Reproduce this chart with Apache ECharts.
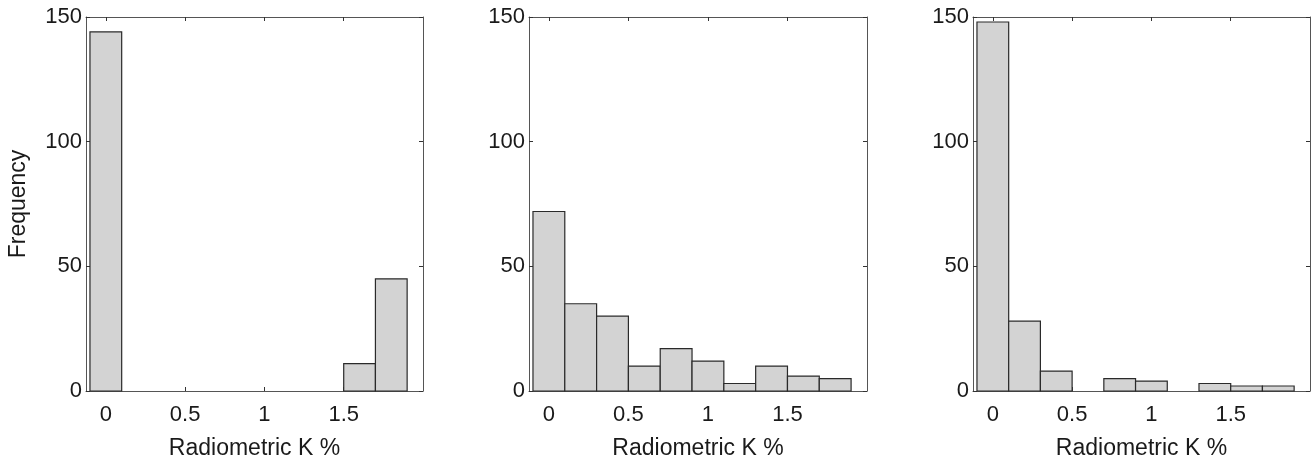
<!DOCTYPE html>
<html>
<head>
<meta charset="utf-8">
<script src="https://cdn.jsdelivr.net/npm/echarts@6/dist/echarts.min.js"></script>
<style>
html,body{margin:0;padding:0;background:#fff;}
#chart{width:1316px;height:462px;}
</style>
</head>
<body>
<div id="chart"></div>
<script>
// Bin centres (bin width 0.2)
var binCenters = [0, 0.2, 0.4, 0.6, 0.8, 1.0, 1.2, 1.4, 1.6, 1.8];
var binWidth = 0.2;
// Frequencies per panel
var panel1Counts = [144, 0, 0, 0, 0, 0, 0, 0, 11, 45];
var panel2Counts = [72, 35, 30, 10, 17, 12, 3, 10, 6, 5];
var panel3Counts = [148, 28, 8, 0, 5, 4, 0, 3, 2, 2];
var xTickLabels = [0, 0.5, 1, 1.5];
var yTickLabels = [0, 50, 100, 150];
var xLabel = 'Radiometric K %';
var yLabel = 'Frequency';

var panels = [panel1Counts, panel2Counts, panel3Counts];
var grids = [
  {left: 86, top: 17, width: 337, height: 374, outerBoundsMode: 'none', containLabel: false},
  {left: 529, top: 17, width: 338, height: 374, outerBoundsMode: 'none', containLabel: false},
  {left: 973, top: 17, width: 337, height: 374, outerBoundsMode: 'none', containLabel: false}
];

var font = 'Liberation Sans, Arial, sans-serif';
var axisColor = '#555';
var xAxes = [], yAxes = [], series = [];

grids.forEach(function (g, i) {
  // bottom x axis
  xAxes.push({
    type: 'value', gridIndex: i, position: 'bottom', min: -0.125, max: 2,
    name: xLabel, nameLocation: 'middle', nameGap: 46,
    nameTextStyle: {fontFamily: font, fontSize: 23, color: '#1a1a1a'},
    axisLine: {show: true, onZero: false, lineStyle: {color: axisColor, width: 1}},
    axisTick: {show: true, inside: true, length: 4, customValues: xTickLabels, lineStyle: {color: '#333'}},
    axisLabel: {show: true, customValues: xTickLabels, margin: 13, fontFamily: font, fontSize: 22, color: '#1a1a1a',
      formatter: function (v) { return String(v); }},
    splitLine: {show: false}
  });
  // top x axis (box)
  xAxes.push({
    type: 'value', gridIndex: i, position: 'top', min: -0.125, max: 2,
    axisLine: {show: true, onZero: false, lineStyle: {color: axisColor, width: 1}},
    axisTick: {show: true, inside: true, length: 4, customValues: xTickLabels, lineStyle: {color: '#333'}},
    axisLabel: {show: false},
    splitLine: {show: false}
  });
  // left y axis
  yAxes.push({
    type: 'value', gridIndex: i, position: 'left', min: 0, max: 150, interval: 50,
    name: i === 0 ? yLabel : '', nameLocation: 'middle', nameGap: 56,
    nameTextStyle: {fontFamily: font, fontSize: 23, color: '#1a1a1a'},
    axisLine: {show: true, onZero: false, lineStyle: {color: axisColor, width: 1}},
    axisTick: {show: true, inside: true, length: 4, lineStyle: {color: '#333'}},
    axisLabel: {show: true, margin: 4, fontFamily: font, fontSize: 22, color: '#1a1a1a'},
    splitLine: {show: false}
  });
  // right y axis (box)
  yAxes.push({
    type: 'value', gridIndex: i, position: 'right', min: 0, max: 150, interval: 50,
    axisLine: {show: true, onZero: false, lineStyle: {color: axisColor, width: 1}},
    axisTick: {show: true, inside: true, length: 4, lineStyle: {color: '#333'}},
    axisLabel: {show: false},
    splitLine: {show: false}
  });

  var data = binCenters.map(function (c, k) { return [c, panels[i][k]]; });
  series.push({
    type: 'custom',
    xAxisIndex: i * 2,
    yAxisIndex: i * 2,
    data: data,
    renderItem: function (params, api) {
      var c = api.value(0), v = api.value(1);
      if (!v) { return null; }
      var p0 = api.coord([c - binWidth / 2, v]);
      var p1 = api.coord([c + binWidth / 2, 0]);
      return {
        type: 'rect',
        shape: {x: p0[0], y: p0[1], width: p1[0] - p0[0], height: p1[1] - p0[1]},
        style: {fill: '#d3d3d3', stroke: '#2a2a2a', lineWidth: 1.2}
      };
    },
    z: 1
  });
});

var chart = echarts.init(document.getElementById('chart'), null, {renderer: 'canvas'});
chart.setOption({
  animation: false,
  backgroundColor: '#fff',
  grid: grids,
  xAxis: xAxes,
  yAxis: yAxes,
  series: series
});
</script>
</body>
</html>
